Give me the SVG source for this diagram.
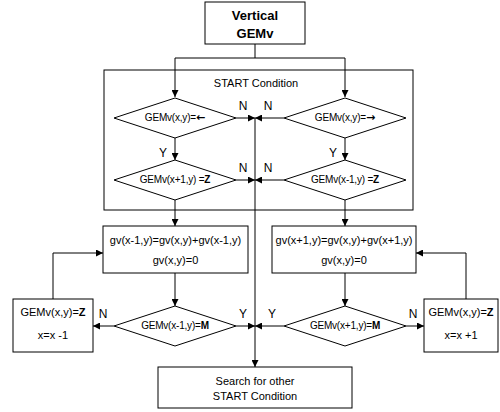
<svg xmlns="http://www.w3.org/2000/svg" width="500" height="412" viewBox="0 0 500 412">
<defs>
<marker id="ah" viewBox="0 0 10 10" refX="10" refY="5" markerWidth="8" markerHeight="7" markerUnits="userSpaceOnUse" orient="auto">
<path d="M0,0 L10,5 L0,10 Z" fill="#000"/>
</marker>
<style>
.s{fill:#fff;stroke:#000;stroke-width:1}
.f{fill:none;stroke:#000;stroke-width:1}
.c{fill:none;stroke:#000;stroke-width:1;marker-end:url(#ah)}
text{font-family:"Liberation Sans",Arial,sans-serif;fill:#000;text-anchor:middle}
.t11{font-size:11px}
.t10{font-size:10px;letter-spacing:-0.2px}
.tb{font-size:13px;font-weight:bold}
.lb{font-size:12px}
.b{font-weight:bold}
.ar{font-family:"DejaVu Sans",sans-serif;font-weight:bold;font-size:11px;letter-spacing:0}
</style>
</defs>
<rect width="500" height="412" fill="#fff"/>
<g id="frame"><rect class="f" x="104" y="70" width="309" height="140"/>
<text class="t11" x="256" y="87">START Condition</text></g>
<g id="connectors">
<path class="f" d="M255,44 V58 M175,58 H345"/>
<path class="c" d="M175,58 V97"/>
<path class="c" d="M345,58 V97"/>
<path class="c" d="M236,118 H255"/>
<path class="c" d="M284,118 H255"/>
<path class="c" d="M255,118 V367"/>
<path class="c" d="M175,138 V160"/>
<path class="c" d="M345,138 V160"/>
<path class="c" d="M236,180 H255"/>
<path class="c" d="M284,180 H255"/>
<path class="c" d="M175,200 V226"/>
<path class="c" d="M345,200 V226"/>
<path class="c" d="M175,273 V306"/>
<path class="c" d="M345,273 V306"/>
<path class="c" d="M236,326 H255"/>
<path class="c" d="M284,326 H255"/>
<path class="c" d="M114,326 H93"/>
<path class="c" d="M406,326 H424"/>
<path class="c" d="M53,299 V253 H103"/>
<path class="c" d="M466,299 V253 H416"/>
<text class="lb" x="243" y="110">N</text>
<text class="lb" x="268" y="110">N</text>
<text class="lb" x="163" y="157">Y</text>
<text class="lb" x="333" y="157">Y</text>
<text class="lb" x="243" y="172">N</text>
<text class="lb" x="268" y="172">N</text>
<text class="lb" x="103" y="318">N</text>
<text class="lb" x="243" y="318">Y</text>
<text class="lb" x="272" y="318">Y</text>
<text class="lb" x="413" y="318">N</text>
</g>
<g id="start"><rect class="s" x="205" y="2" width="100" height="42"/>
<text class="tb" x="255" y="20">Vertical</text>
<text class="tb" x="255" y="38">GEMv</text></g>
<g id="d1l"><polygon class="s" points="114,118 175,98 236,118 175,138"/>
<text class="t10" x="175" y="121">GEMv(x,y)=<tspan class="ar">←</tspan></text></g>
<g id="d1r"><polygon class="s" points="284,118 345,98 406,118 345,138"/>
<text class="t10" x="345" y="121">GEMv(x,y)=<tspan class="ar">→</tspan></text></g>
<g id="d2l"><polygon class="s" points="114,180 175,160 236,180 175,200"/>
<text class="t10" x="175" y="183">GEMv(x+1,y) =<tspan class="b">Z</tspan></text></g>
<g id="d2r"><polygon class="s" points="284,180 345,160 406,180 345,200"/>
<text class="t10" x="345" y="183">GEMv(x-1,y) =<tspan class="b">Z</tspan></text></g>
<g id="pl"><rect class="s" x="103" y="226" width="145" height="47"/>
<text class="t11" x="175.5" y="244">gv(x-1,y)=gv(x,y)+gv(x-1,y)</text>
<text class="t11" x="175.5" y="264">gv(x,y)=0</text></g>
<g id="pr"><rect class="s" x="272" y="226" width="144" height="47"/>
<text class="t11" x="344" y="244">gv(x+1,y)=gv(x,y)+gv(x+1,y)</text>
<text class="t11" x="344" y="264">gv(x,y)=0</text></g>
<g id="d3l"><polygon class="s" points="114,326 175,306 236,326 175,346"/>
<text class="t10" x="175" y="329">GEMv(x-1,y)=<tspan class="b">M</tspan></text></g>
<g id="d3r"><polygon class="s" points="284,326 345,306 406,326 345,346"/>
<text class="t10" x="345" y="329">GEMv(x+1,y)=<tspan class="b">M</tspan></text></g>
<g id="sl"><rect class="s" x="13" y="299" width="80" height="53"/>
<text class="t11" x="53" y="316">GEMv(x,y)=<tspan class="b">Z</tspan></text>
<text class="t11" x="53" y="339">x=x -1</text></g>
<g id="sr"><rect class="s" x="424" y="299" width="74" height="53"/>
<text class="t11" x="461" y="316">GEMv(x,y)=<tspan class="b">Z</tspan></text>
<text class="t11" x="461" y="339">x=x +1</text></g>
<g id="search"><rect class="s" x="158" y="367" width="194" height="41"/>
<text class="t11" x="255" y="385">Search for other</text>
<text class="t11" x="255" y="400">START Condition</text></g>
</svg>
